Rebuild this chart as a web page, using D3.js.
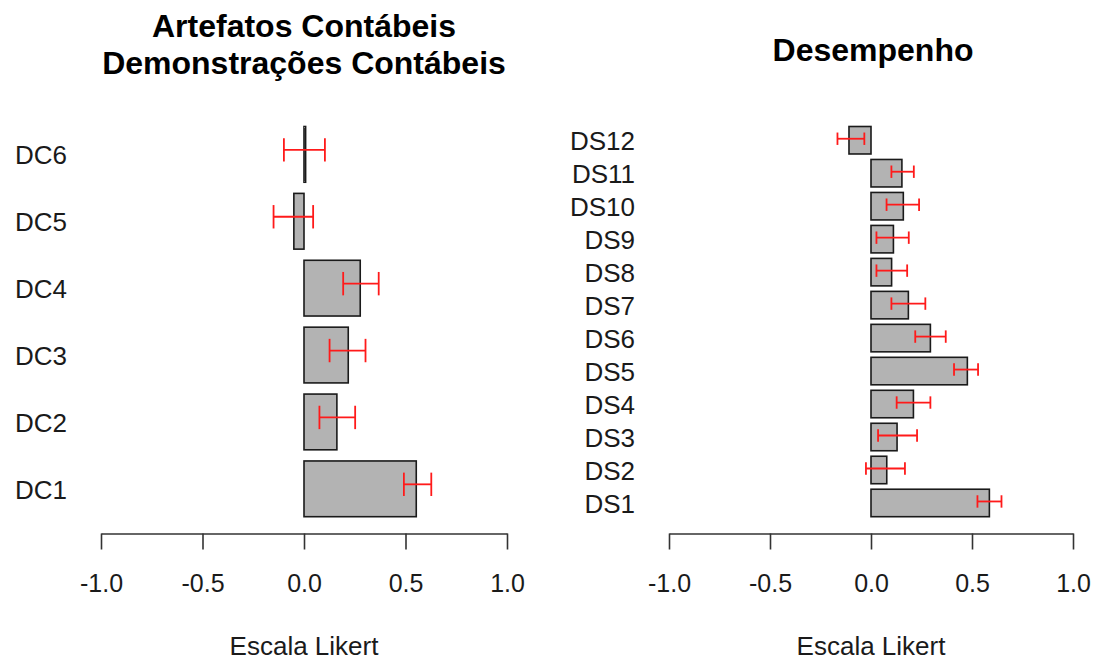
<!DOCTYPE html>
<html>
<head>
<meta charset="utf-8">
<script src="https://cdn.jsdelivr.net/npm/d3@7"></script>
<style>
  html, body { margin: 0; padding: 0; background: #fff; }
  svg { display: block; font-family: "Liberation Sans", Arial, sans-serif; }
</style>
</head>
<body>
<svg id="chart" width="1095" height="661"></svg>
<script>
// ---- Data ----
const dcCategories = ["DC1", "DC2", "DC3", "DC4", "DC5", "DC6"];
const dcMeans  = [0.553, 0.162, 0.218, 0.277, -0.050, 0.008];
const dcLower  = [0.492, 0.076, 0.126, 0.193, -0.150, -0.099];
const dcUpper  = [0.627, 0.252, 0.303, 0.368, 0.045, 0.103];

const dsCategories = ["DS1", "DS2", "DS3", "DS4", "DS5", "DS6", "DS7", "DS8", "DS9", "DS10", "DS11", "DS12"];
const dsMeans  = [0.586, 0.078, 0.129, 0.210, 0.477, 0.294, 0.185, 0.102, 0.111, 0.160, 0.153, -0.109];
const dsLower  = [0.527, -0.025, 0.035, 0.127, 0.411, 0.219, 0.101, 0.027, 0.027, 0.077, 0.101, -0.166];
const dsUpper  = [0.646, 0.168, 0.228, 0.294, 0.530, 0.370, 0.269, 0.179, 0.187, 0.238, 0.212, -0.033];

const xTickValues = [-1, -0.5, 0, 0.5, 1];
const xDomain = [-1, 1];
const axisTitle = "Escala Likert";
const leftTitleLines = ["Artefatos Contábeis", "Demonstrações Contábeis"];
const rightTitleLines = ["Desempenho"];

// ---- Drawing ----
const svg = d3.select("#chart");

function drawPanel(cfg) {
  const g = svg.append("g");
  const x = d3.scaleLinear().domain(xDomain).range(cfg.xRange);
  const y = d3.scaleBand().domain(cfg.categories)
    .range([516.7, 126.5]).paddingInner(0.1667).paddingOuter(0);

  const rows = cfg.categories.map((c, i) => ({
    cat: c, mean: cfg.means[i], lo: cfg.lower[i], hi: cfg.upper[i]
  }));

  // bars
  g.selectAll("rect.bar").data(rows).enter().append("rect")
    .attr("class", "bar")
    .attr("x", d => x(Math.min(0, d.mean)))
    .attr("width", d => Math.abs(x(d.mean) - x(0)))
    .attr("y", d => y(d.cat))
    .attr("height", y.bandwidth())
    .attr("fill", "#b3b3b3")
    .attr("stroke", "#1a1a1a")
    .attr("stroke-width", 1.6);

  // error bars
  const eb = g.selectAll("g.eb").data(rows).enter().append("g")
    .attr("class", "eb")
    .attr("transform", d => `translate(0,${y(d.cat) + y.bandwidth() / 2 + cfg.ebOffset})`)
    .attr("stroke", "#ff1a1a")
    .attr("stroke-width", 1.8);
  eb.append("line").attr("x1", d => x(d.lo)).attr("x2", d => x(d.hi)).attr("y1", 0).attr("y2", 0);
  eb.append("line").attr("x1", d => x(d.lo)).attr("x2", d => x(d.lo)).attr("y1", -cfg.cap).attr("y2", cfg.cap);
  eb.append("line").attr("x1", d => x(d.hi)).attr("x2", d => x(d.hi)).attr("y1", -cfg.cap).attr("y2", cfg.cap);

  // category labels
  g.selectAll("text.cat").data(rows).enter().append("text")
    .attr("class", "cat")
    .attr("x", cfg.labelX)
    .attr("y", d => y(d.cat) + y.bandwidth() / 2)
    .attr("dy", "0.38em")
    .attr("text-anchor", "end")
    .attr("font-size", 26)
    .attr("fill", "#1a1a1a")
    .text(d => d.cat);

  // x axis
  const axis = d3.axisBottom(x).tickValues(xTickValues)
    .tickFormat(d => d.toFixed(1)).tickSize(16).tickSizeOuter(0).tickPadding(25);
  const ax = g.append("g").attr("transform", "translate(0,533.5)").call(axis);
  ax.select(".domain").attr("stroke", "#333").attr("stroke-width", 1.6);
  ax.selectAll(".tick line").attr("stroke", "#333").attr("stroke-width", 1.6);
  ax.selectAll(".tick text").attr("font-size", 25).attr("fill", "#1a1a1a")
    .attr("font-family", "'Liberation Sans', Arial, sans-serif");

  // axis title
  g.append("text")
    .attr("x", x(0)).attr("y", 655)
    .attr("text-anchor", "middle")
    .attr("font-size", 26).attr("fill", "#1a1a1a")
    .text(axisTitle);

  // title
  cfg.titleLines.forEach((t, i) => {
    g.append("text")
      .attr("x", cfg.titleX).attr("y", cfg.titleY + i * 36.5)
      .attr("text-anchor", "middle")
      .attr("font-size", 32).attr("font-weight", "bold").attr("fill", "#000")
      .text(t);
  });
}

drawPanel({
  categories: dcCategories, means: dcMeans, lower: dcLower, upper: dcUpper,
  xRange: [101, 507], labelX: 67, cap: 11.7, ebOffset: -4.5,
  titleLines: leftTitleLines, titleX: 304, titleY: 37
});

drawPanel({
  categories: dsCategories, means: dsMeans, lower: dsLower, upper: dsUpper,
  xRange: [669, 1073], labelX: 635, cap: 6.2, ebOffset: -1.5,
  titleLines: rightTitleLines, titleX: 873, titleY: 61
});
</script>
</body>
</html>
